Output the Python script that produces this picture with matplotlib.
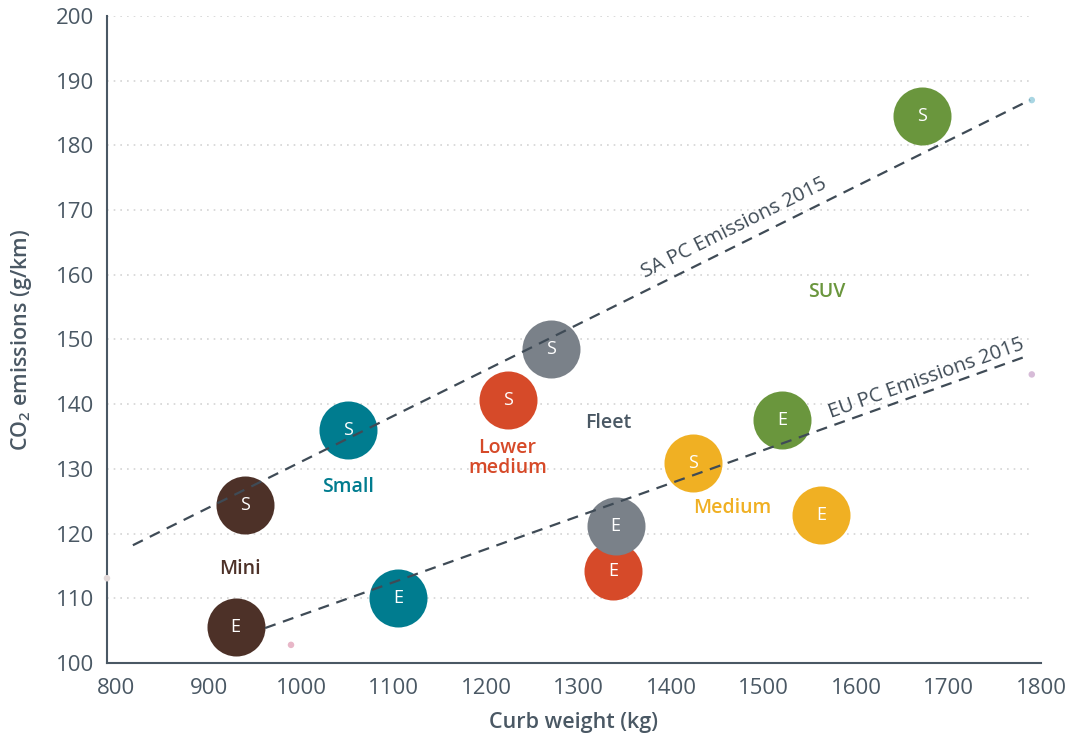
import numpy as np
import matplotlib
matplotlib.use('Agg')
import matplotlib.pyplot as plt

# --- dados ---
segmentos = ['Mini', 'Small', 'Lower\nmedium', 'Fleet', 'Medium', 'SUV']
cores = ['#4d3128', '#007c8f', '#d64a29', '#7a8189', '#f0b023', '#6a963d']

peso_sa = [939, 1051, 1224, 1270, 1424, 1671]
co2_sa = [124.4, 136.0, 140.6, 148.5, 130.9, 184.5]
peso_eu = [929, 1105, 1337, 1340, 1562, 1520]
co2_eu = [105.6, 110.0, 114.2, 121.2, 122.9, 137.6]

rotulo_x = [934, 1051, 1223, 1332, 1466, 1568]
rotulo_y = [114.5, 127.2, 131.7, 137.1, 124.0, 157.3]

linha_sa_x = [818, 1788]
linha_sa_y = [118.2, 187.0]
linha_eu_x = [961, 1788]
linha_eu_y = [105.4, 147.6]

pontos_x = [790, 989, 1790, 1790]
pontos_y = [113.1, 102.8, 187.0, 144.6]
pontos_cor = ['#e3d9d9', '#e8b7c8', '#a9d6e3', '#d7bcd8']

cor_texto = '#4a5864'
plt.rcParams['font.family'] = ['Open Sans', 'DejaVu Sans']
plt.rcParams['mathtext.default'] = 'regular'

fig = plt.figure(figsize=(10.74, 7.36), dpi=100)
ax = fig.add_axes([0.0996, 0.0992, 0.8697, 0.8791])
ax.set_xlim(790, 1800)
ax.set_ylim(100, 200)

# grade pontilhada
ax.set_yticks(np.arange(100, 201, 10))
ax.set_xticks(np.arange(800, 1801, 100))
ax.hlines(np.arange(110, 201, 10), 790, 1788, color='#d4d4d4', lw=1.2,
          linestyles=[(0, (1, 3))], zorder=0)

# bolhas (vermelho antes do cinza para ficar por baixo)
ordem = [0, 1, 2, 4, 5, 3]
for i in ordem:
    ax.scatter(peso_sa[i], co2_sa[i], s=1745, color=cores[i], zorder=2, linewidths=0)
    ax.text(peso_sa[i], co2_sa[i], 'S', color='white', fontsize=13, ha='center',
            va='center', zorder=4)
    ax.scatter(peso_eu[i], co2_eu[i], s=1745, color=cores[i], zorder=2, linewidths=0)
    ax.text(peso_eu[i], co2_eu[i], 'E', color='white', fontsize=13, ha='center',
            va='center', zorder=4)
    ax.text(rotulo_x[i], rotulo_y[i], segmentos[i], color=cores[i] if i != 3 else '#4a5864',
            fontsize=14, fontweight='semibold', ha='center', va='center', linespacing=1.0)

ax.scatter(pontos_x, pontos_y, s=22, color=pontos_cor, zorder=3, linewidths=0, clip_on=False)

# linhas de referência
ax.plot(linha_sa_x, linha_sa_y, color='#3f4b56', lw=1.6, ls=(0, (5, 3.5)), zorder=3)
ax.plot(linha_eu_x, linha_eu_y, color='#3f4b56', lw=1.6, ls=(0, (5, 3.5)), zorder=3)

def angulo(xs, ys):
    p = ax.transData.transform(np.column_stack([xs, ys]))
    return np.degrees(np.arctan2(p[1, 1] - p[0, 1], p[1, 0] - p[0, 0]))

ax.text(1468, 167.2, 'SA PC Emissions 2015', rotation=angulo(linha_sa_x, linha_sa_y),
        rotation_mode='anchor', ha='center', va='center', fontsize=14.5, color='#3f4b56')
ax.text(1676, 144.0, 'EU PC Emissions 2015', rotation=angulo(linha_eu_x, linha_eu_y),
        rotation_mode='anchor', ha='center', va='center', fontsize=14.5, color='#3f4b56')

# eixos
for lado in ['top', 'right']:
    ax.spines[lado].set_visible(False)
for lado in ['left', 'bottom']:
    ax.spines[lado].set_color('#4a5864')
    ax.spines[lado].set_linewidth(1.5)
ax.tick_params(length=0, labelsize=16, colors=cor_texto)
ax.tick_params(axis='y', pad=9)
ax.tick_params(axis='x', pad=11)

ax.set_xlabel('Curb weight (kg)', fontsize=15.5, fontweight='semibold', color=cor_texto, labelpad=9)
ax.set_ylabel('CO$_2$ emissions (g/km)', fontsize=15.5, fontweight='semibold', color=cor_texto, labelpad=16)

fig.savefig('out.png', dpi=100)
